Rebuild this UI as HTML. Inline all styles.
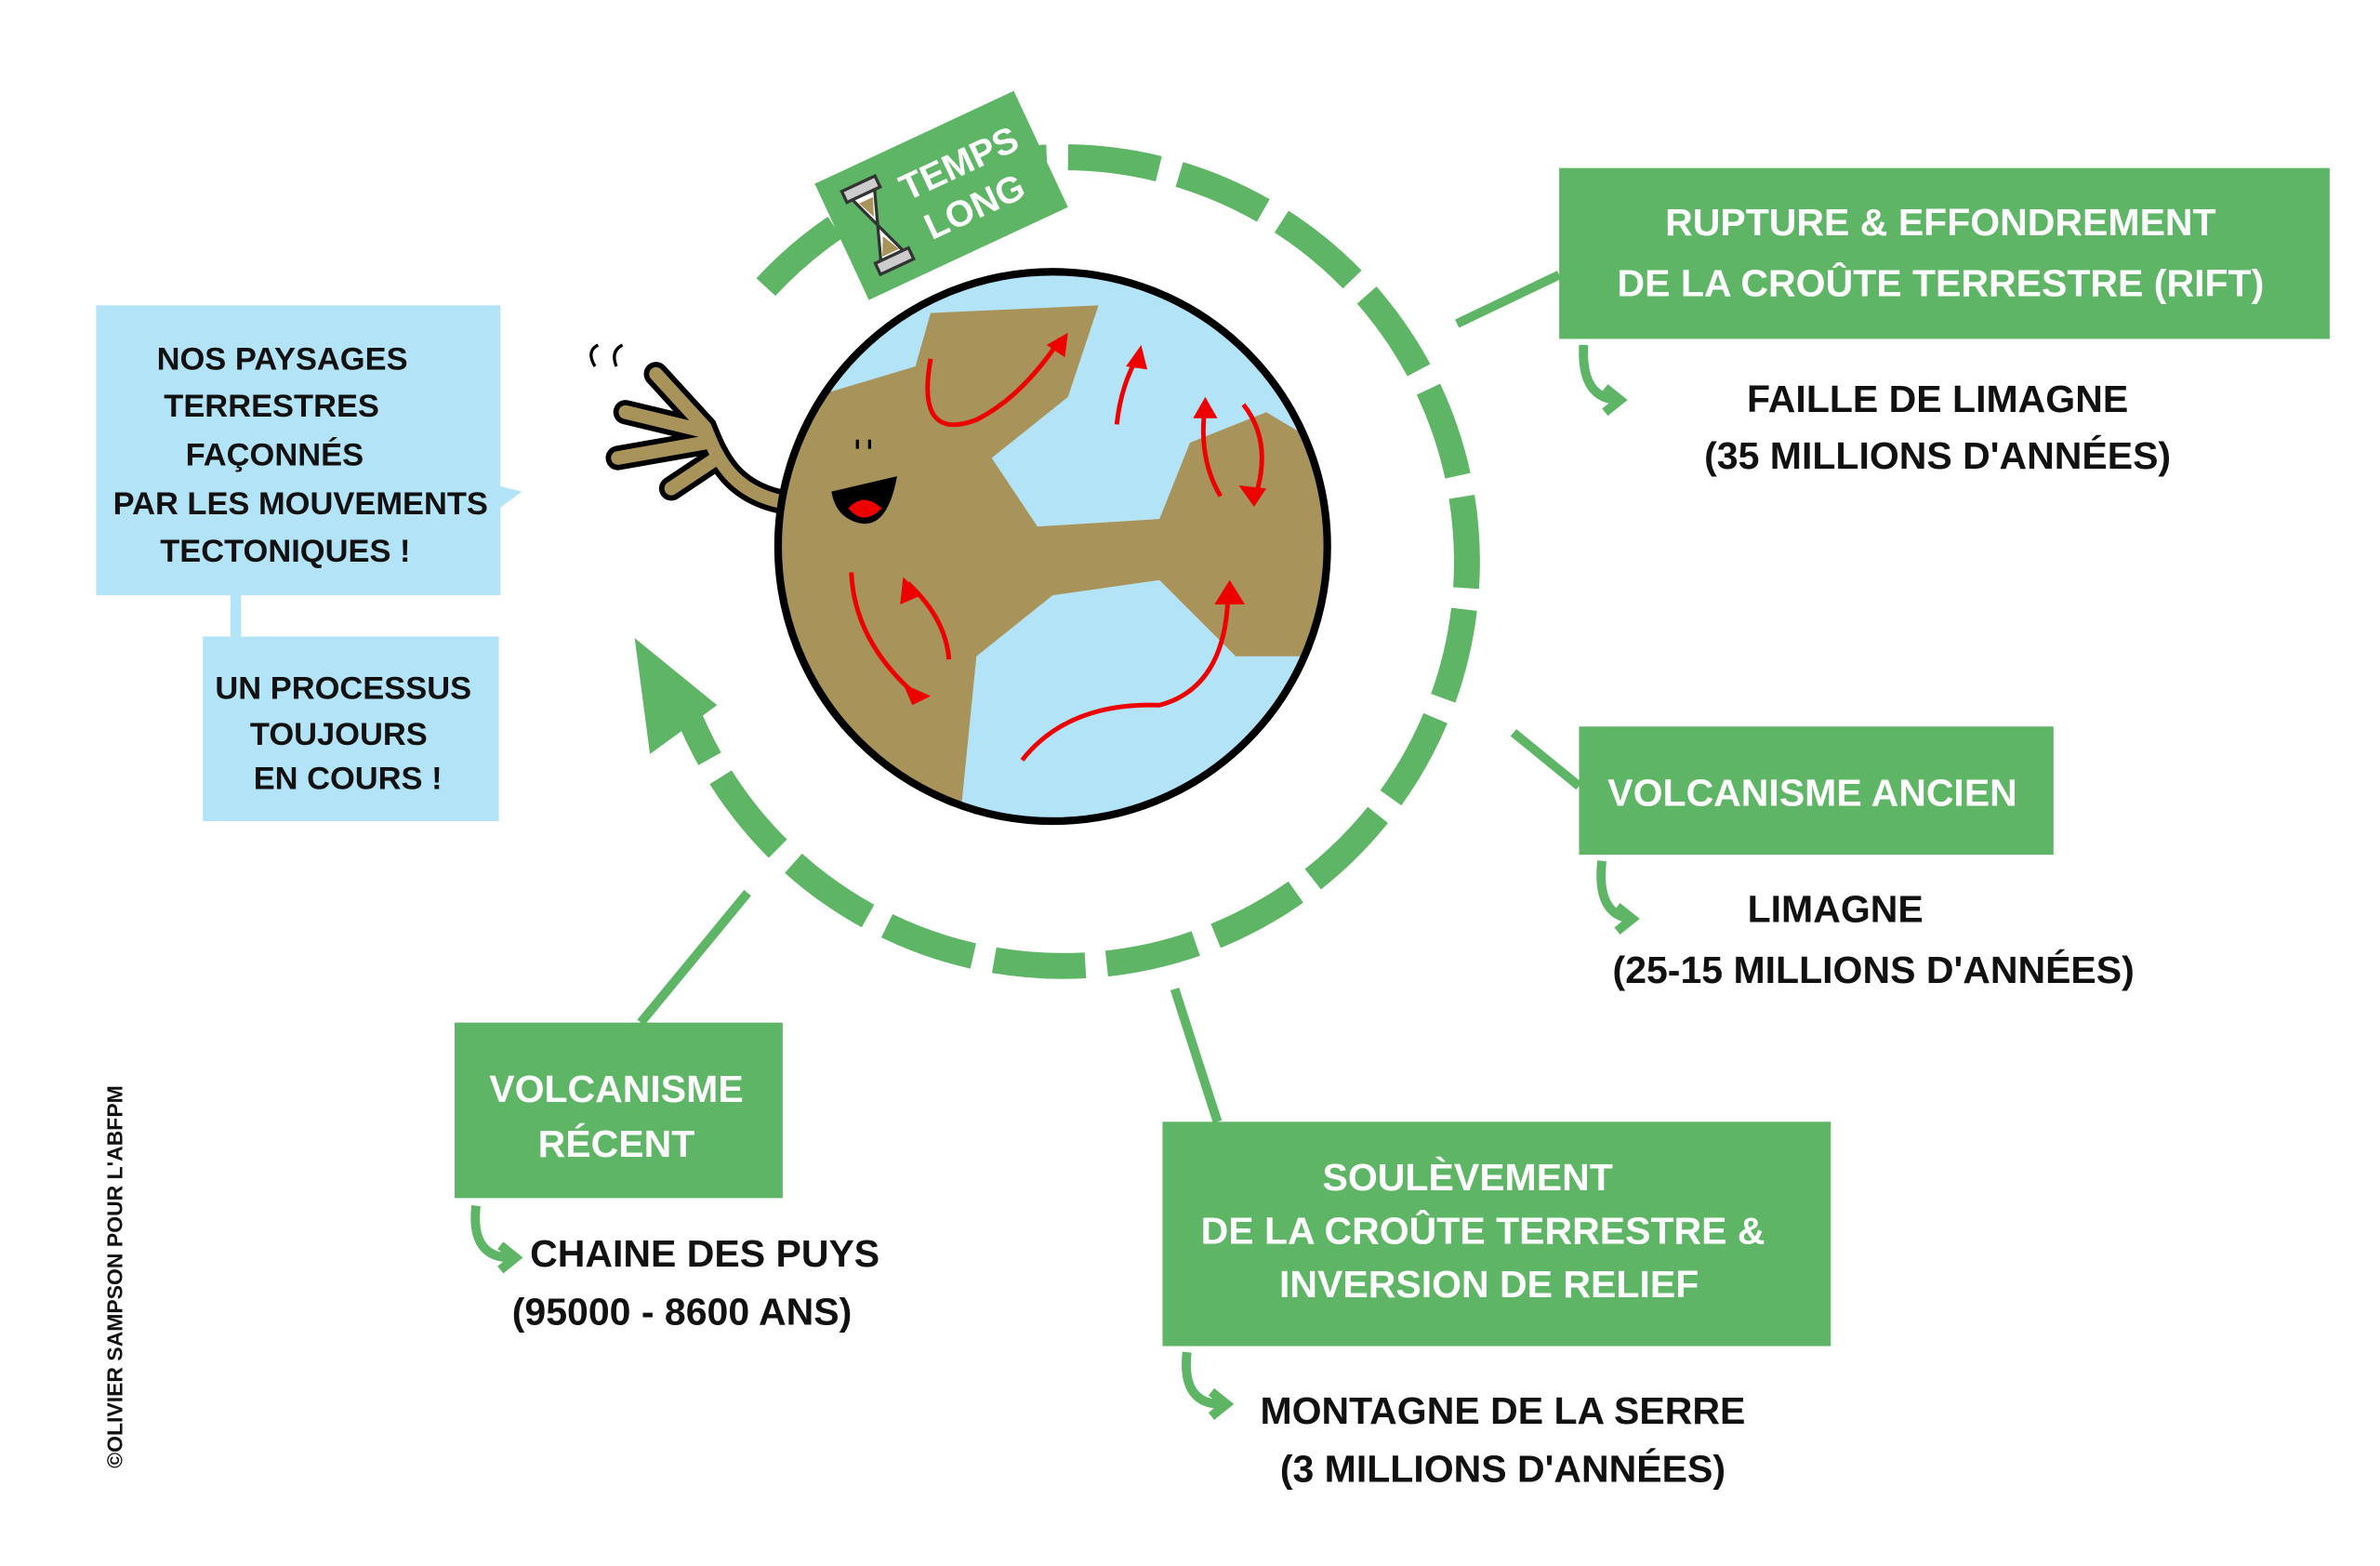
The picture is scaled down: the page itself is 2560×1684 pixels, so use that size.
<!DOCTYPE html>
<html><head><meta charset="utf-8"><style>
html,body{margin:0;padding:0;background:#fff;}
svg{display:block}
text{font-family:"Liberation Sans",sans-serif;font-weight:bold;}
</style></head><body>
<svg width="2560" height="1684" viewBox="0 0 1560 1026" xmlns="http://www.w3.org/2000/svg">
<rect width="1560" height="1026" fill="#fff"/>
<!-- dashed cycle arc -->
<path d="M 502 188 A 265 265 0 1 1 452 470" fill="none" stroke="#5db565" stroke-width="17" stroke-dasharray="60 14"/>
<polygon points="416,418 470,462 426,494" fill="#5db565"/>
<!-- temps long label -->
<g transform="translate(617,128) rotate(-25)">
<rect x="-72" y="-42" width="144" height="84" fill="#5db565"/>
<rect x="-58" y="-30" width="24" height="8" fill="#ccc" stroke="#333" stroke-width="2"/>
<path d="M-54 -22 L-38 -22 L-46 0 L-38 22 L-54 22 L-46 0Z" fill="#fff" stroke="#333" stroke-width="2"/>
<path d="M-51 -18 L-41 -18 L-46 -6Z M-52 20 L-40 20 L-46 8Z" fill="#a8935a"/>
<rect x="-58" y="22" width="24" height="8" fill="#ccc" stroke="#333" stroke-width="2"/>
<text x="-22" y="-6" font-size="24" fill="#fff">TEMPS</text>
<text x="-18" y="24" font-size="24" fill="#fff">LONG</text>
</g>
<!-- arm -->
<path d="M520 330 C480 325 470 300 462 280 L430 245 M460 282 L410 270 M462 290 L405 300 M470 300 L440 320" stroke="#000" stroke-width="16" stroke-linecap="round" fill="none"/>
<path d="M520 330 C480 325 470 300 462 280 L430 245 M460 282 L410 270 M462 290 L405 300 M470 300 L440 320" stroke="#a8935a" stroke-width="9" stroke-linecap="round" fill="none"/>
<path d="M390 240 Q384 230 392 226 M404 240 Q400 230 408 226" stroke="#000" stroke-width="2" fill="none"/>
<!-- earth -->
<defs><clipPath id="e"><circle cx="690" cy="358" r="180"/></clipPath></defs>
<circle cx="690" cy="358" r="180" fill="#b3e3f6"/>
<g clip-path="url(#e)" fill="#a8935a">
<path d="M500 270 L600 240 L610 205 L720 200 L700 260 L650 300 L680 345 L760 340 L780 290 L830 270 L880 300 L880 430 L810 430 L760 380 L690 390 L640 430 L630 530 L480 540Z"/>
</g>
<circle cx="690" cy="358" r="180" fill="none" stroke="#000" stroke-width="5"/>
<path d="M545 322 L588 312 Q582 345 565 343 Q548 340 545 322Z" fill="#000"/>
<path d="M556 333 Q566 322 578 333 Q566 345 556 333Z" fill="#e00"/>
<path d="M562 288 v6 M570 288 v6" stroke="#000" stroke-width="2"/>
<g stroke="#e00" stroke-width="3" fill="none">
<path d="M610 235 Q600 290 640 275 Q670 260 695 222"/>
<path d="M732 278 Q735 250 748 230"/>
<path d="M800 325 Q785 300 790 265"/>
<path d="M815 265 Q835 290 822 328"/>
<path d="M558 375 Q560 420 600 455"/>
<path d="M622 432 Q620 405 595 382"/>
<path d="M670 498 Q700 460 760 462 Q805 450 805 385"/>
</g>
<g fill="#e00">
<polygon points="700,218 686,226 698,234"/><polygon points="748,226 738,240 752,242"/>
<polygon points="790,260 782,274 798,274"/><polygon points="822,332 812,318 830,320"/>
<polygon points="610,456 592,448 598,462"/><polygon points="592,378 590,396 604,390"/>
<polygon points="806,380 796,396 816,396"/>
</g>
<!-- blue boxes -->
<rect x="63" y="200" width="265" height="190" fill="#b3e3f6"/>
<polygon points="326,318 342,322 326,334" fill="#b3e3f6"/>
<rect x="151" y="388" width="7" height="30" fill="#b3e3f6"/>
<rect x="133" y="417" width="194" height="121" fill="#b3e3f6"/>
<g font-size="21" fill="#111" text-anchor="middle">
<text x="185" y="242">NOS PAYSAGES</text>
<text x="178" y="273">TERRESTRES</text>
<text x="180" y="305">FAÇONNÉS</text>
<text x="197" y="337">PAR LES MOUVEMENTS</text>
<text x="187" y="368">TECTONIQUES !</text>
<text x="225" y="458">UN PROCESSUS</text>
<text x="222" y="488">TOUJOURS</text>
<text x="228" y="517">EN COURS !</text>
</g>
<!-- connectors -->
<g stroke="#5db565" stroke-width="6" fill="none">
<path d="M955 212 L1022 180"/><path d="M992 480 L1035 515"/>
<path d="M770 648 L798 735"/><path d="M490 585 L420 670"/>
<path d="M1038 226 Q1036 262 1062 262 M1052 254 L1062 262 L1052 270"/>
<path d="M1050 564 Q1046 600 1070 602 M1060 594 L1070 602 L1060 610"/>
<path d="M312 790 Q308 826 338 824 M328 816 L338 824 L328 832"/>
<path d="M778 886 Q774 922 804 920 M794 912 L804 920 L794 928"/>
</g>
<!-- green boxes -->
<rect x="1022" y="110" width="505" height="112" fill="#5db565"/>
<rect x="1035" y="476" width="311" height="84" fill="#5db565"/>
<rect x="762" y="735" width="438" height="147" fill="#5db565"/>
<rect x="298" y="670" width="215" height="115" fill="#5db565"/>
<g font-size="25" fill="#fff" text-anchor="middle">
<text x="1272" y="154">RUPTURE &amp; EFFONDREMENT</text>
<text x="1272" y="194">DE LA CROÛTE TERRESTRE (RIFT)</text>
<text x="1188" y="528">VOLCANISME ANCIEN</text>
<text x="962" y="780">SOULÈVEMENT</text>
<text x="972" y="815">DE LA CROÛTE TERRESTRE &amp;</text>
<text x="976" y="850">INVERSION DE RELIEF</text>
<text x="404" y="722">VOLCANISME</text>
<text x="404" y="758">RÉCENT</text>
</g>
<g font-size="25" fill="#111" text-anchor="middle">
<text x="1270" y="270">FAILLE DE LIMAGNE</text>
<text x="1270" y="307">(35 MILLIONS D'ANNÉES)</text>
<text x="1203" y="604">LIMAGNE</text>
<text x="1228" y="644">(25-15 MILLIONS D'ANNÉES)</text>
<text x="985" y="933">MONTAGNE DE LA SERRE</text>
<text x="985" y="971">(3 MILLIONS D'ANNÉES)</text>
<text x="462" y="830">CHAINE DES PUYS</text>
<text x="447" y="868">(95000 - 8600 ANS)</text>
</g>
<text transform="translate(80,962) rotate(-90)" font-size="14" fill="#111">©OLIVIER SAMPSON POUR L'ABFPM</text>
</svg>
</body></html>
